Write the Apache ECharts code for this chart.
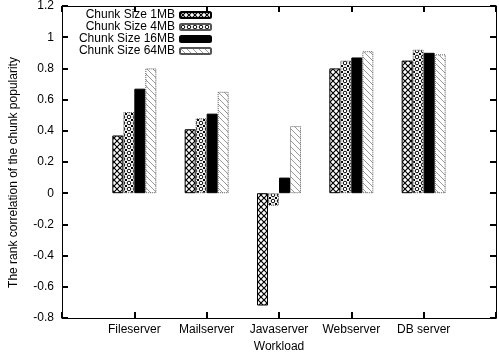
<!DOCTYPE html>
<html>
<head>
<meta charset="utf-8">
<script src="https://cdn.jsdelivr.net/npm/echarts@6/dist/echarts.min.js"></script>
<style>
  html, body { margin: 0; padding: 0; background: #fff; }
  #chart { width: 499px; height: 360px; }
</style>
</head>
<body>
<div id="chart"></div>
<script>
  var categories = ['Fileserver', 'Mailserver', 'Javaserver', 'Webserver', 'DB server']
  var seriesNames = ['Chunk Size 1MB', 'Chunk Size 4MB', 'Chunk Size 16MB', 'Chunk Size 64MB']
  var size1MB = [0.37, 0.41, -0.72, 0.80, 0.85]
  var size4MB = [0.52, 0.48, -0.08, 0.85, 0.92]
  var size16MB = [0.67, 0.51, 0.10, 0.87, 0.90]
  var size64MB = [0.80, 0.65, 0.43, 0.91, 0.89]

  function tile (w, h, draw) {
    var c = document.createElement('canvas')
    c.width = w
    c.height = h
    var ctx = c.getContext('2d')
    ctx.fillStyle = '#fff'
    ctx.fillRect(0, 0, w, h)
    draw(ctx)
    return { image: c, repeat: 'repeat' }
  }

  // cross hatch
  var patCross = tile(6, 6, function (ctx) {
    ctx.strokeStyle = '#000'
    ctx.lineWidth = 1.2
    ctx.beginPath()
    ctx.moveTo(0, 0); ctx.lineTo(6, 6)
    ctx.moveTo(6, 0); ctx.lineTo(0, 6)
    ctx.stroke()
  })
  // small rings
  var patDots = tile(6, 6, function (ctx) {
    ctx.fillStyle = '#000'
    ctx.fillRect(0, 0, 1, 1)
    ctx.fillRect(5, 0, 1, 1)
    ctx.fillRect(0, 5, 1, 1)
    ctx.fillRect(5, 5, 1, 1)
    ctx.strokeStyle = '#000'
    ctx.lineWidth = 1
    ctx.beginPath()
    ctx.arc(3, 3, 1.8, 0, Math.PI * 2)
    ctx.stroke()
  })
  // light diagonal lines
  var patDiag = tile(6, 6, function (ctx) {
    ctx.strokeStyle = '#999'
    ctx.lineWidth = 1
    ctx.beginPath()
    ctx.moveTo(0, 0); ctx.lineTo(6, 6)
    ctx.moveTo(-3, 3); ctx.lineTo(3, 9)
    ctx.moveTo(3, -3); ctx.lineTo(9, 3)
    ctx.stroke()
  })

  var fills = [patCross, patDots, '#000', patDiag]
  var borders = [
    {borderColor: '#000', borderWidth: 1, borderType: 'solid'},
    {borderColor: '#555', borderWidth: 1, borderType: 'dotted'},
    {borderColor: '#000', borderWidth: 1, borderType: 'solid'},
    {borderColor: '#555', borderWidth: 1, borderType: 'dotted'}
  ]
  var values = [size1MB, size4MB, size16MB, size64MB]
  var xData = [''].concat(categories, [''])

  var series = seriesNames.map(function (name, i) {
    return {
      name: name,
      type: 'bar',
      barWidth: 11,
      barGap: '0%',
      data: [null].concat(values[i], [null]),
      itemStyle: Object.assign({color: fills[i]}, borders[i])
    }
  })

  var font = 'Liberation Sans, Arial, Helvetica, sans-serif'
  var fs = 12
  function tick () {
    return {show: true, inside: true, interval: 0, length: 6, lineStyle: {color: '#000', width: 2}}
  }
  function line () {
    return {show: true, onZero: false, lineStyle: {color: '#000', width: 1}}
  }
  var chart = echarts.init(document.getElementById('chart'))
  var option = {
    animation: false,
    grid: {left: 61, right: 2, top: 4, bottom: 42},
    legend: {
      orient: 'vertical',
      left: 78,
      top: 9,
      align: 'right',
      itemWidth: 31,
      itemHeight: 6,
      itemGap: 0,
      padding: 0,
      data: seriesNames,
      textStyle: {fontSize: fs, color: '#000', width: 97, align: 'right', lineHeight: 12, fontFamily: font}
    },
    xAxis: [{
      type: 'category',
      data: xData,
      boundaryGap: false,
      name: 'Workload',
      nameLocation: 'middle',
      nameGap: 23,
      nameTextStyle: {fontSize: fs, color: '#000', fontFamily: font},
      axisLine: line(),
      axisTick: tick(),
      axisLabel: {fontSize: fs, color: '#000', margin: 6, interval: 0, fontFamily: font},
      splitLine: {show: false}
    }, {
      type: 'category',
      position: 'top',
      data: xData,
      boundaryGap: false,
      axisLine: line(),
      axisTick: tick(),
      axisLabel: {show: false, interval: 0},
      splitLine: {show: false}
    }],
    yAxis: [{
      type: 'value',
      min: -0.8,
      max: 1.2,
      interval: 0.2,
      name: 'The rank correlation of the chunk popularity',
      nameLocation: 'middle',
      nameGap: 42,
      nameTextStyle: {fontSize: fs, color: '#000', fontFamily: font, padding: [0, 21, 0, 0]},
      axisLine: line(),
      axisTick: tick(),
      axisLabel: {fontSize: fs, color: '#000', margin: 8, fontFamily: font},
      splitLine: {show: false}
    }, {
      type: 'value',
      position: 'right',
      min: -0.8,
      max: 1.2,
      interval: 0.2,
      axisLine: line(),
      axisTick: tick(),
      axisLabel: {show: false},
      splitLine: {show: false}
    }],
    series: series
  }
  chart.setOption(option)
</script>
</body>
</html>
